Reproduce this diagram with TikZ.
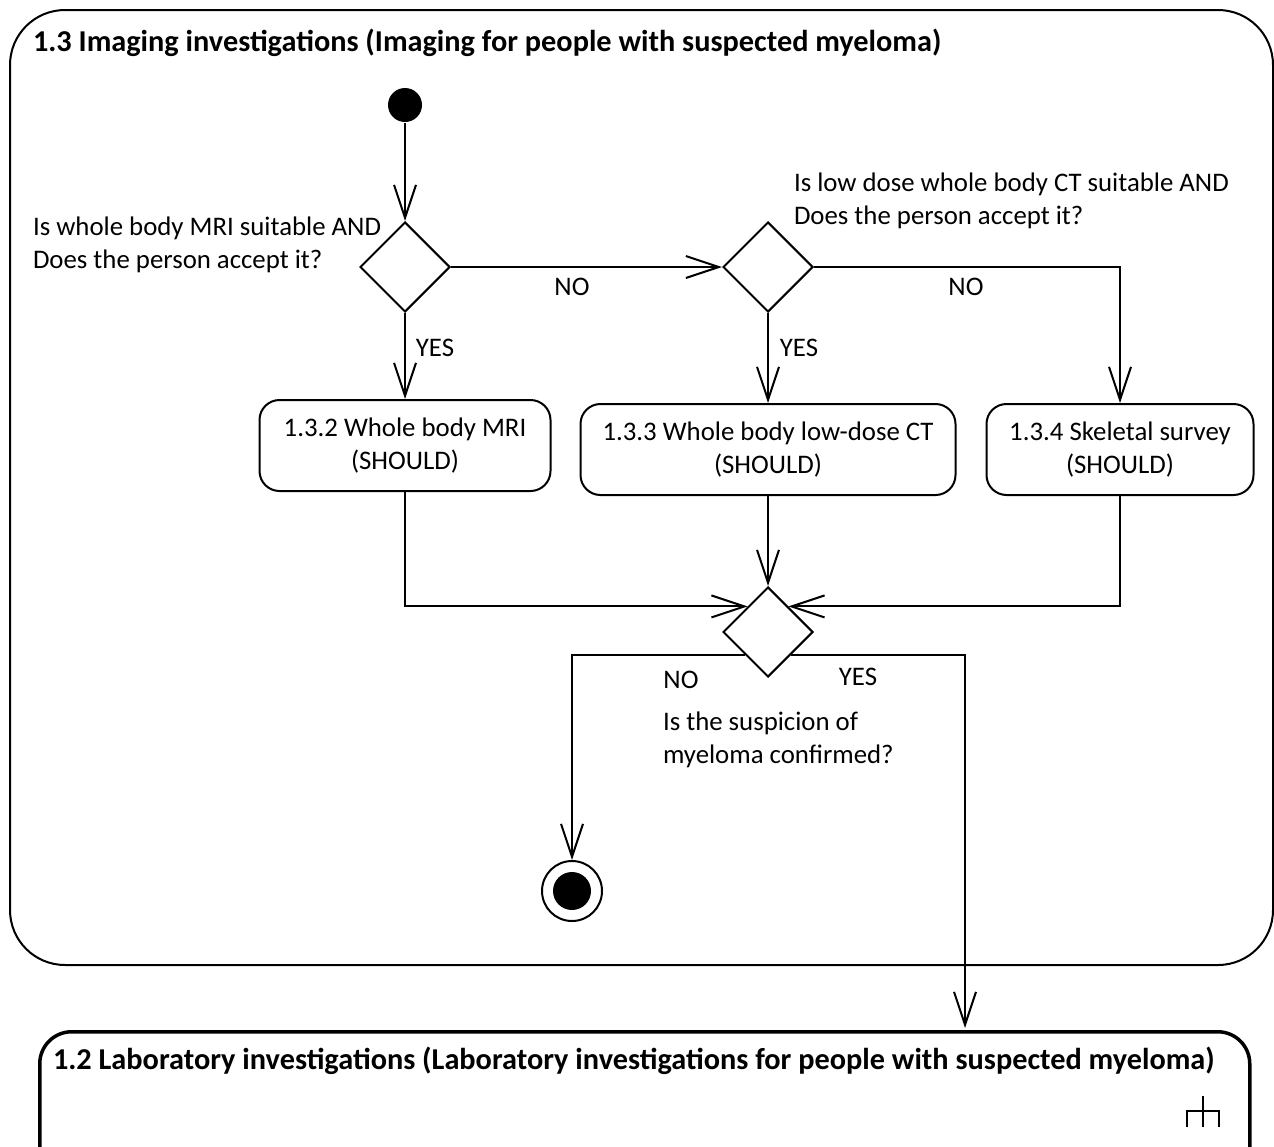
\documentclass[tikz,border=0pt]{standalone}
\usepackage{fontspec}
\setmainfont{Carlito}
\usetikzlibrary{shapes.geometric,arrows.meta,calc}
\begin{document}
\begin{tikzpicture}[x=1pt,y=-1pt, line width=2pt,
  txt/.style={font=\fontsize{26.8}{33}\selectfont, inner sep=0pt},
  ttl/.style={font=\bfseries\fontsize{30.3}{36}\selectfont, inner sep=0pt, anchor=west},
  act/.style={draw, rounded corners=20pt, align=center, txt, minimum height=91pt},
  dec/.style={draw, diamond, aspect=1, minimum width=90pt, minimum height=90pt, inner sep=0pt},
  arr/.style={-{Straight Barb[length=33pt,width=22pt,line width=2pt]}},
]
\useasboundingbox (0,0) rectangle (1274,1146);
% outer frame
\draw[rounded corners=55pt] (10,10) rectangle (1273,965);
\node[ttl] (t13) at (32,43) {1.3 Imaging investigations (Imaging for people with suspected myeloma)};

% nodes
\node[circle, fill, inner sep=0pt, minimum size=34pt] (start) at (405,105) {};
\node[dec] (d1) at (405,267) {};
\node[dec] (d2) at (768,267) {};
\node[dec] (d3) at (768,632) {};
\node[act, minimum width=291pt] (b1) at (405,445.5) {1.3.2 Whole body MRI\\(SHOULD)};
\node[act, minimum width=375pt] (b2) at (768,449.5) {1.3.3 Whole body low-dose CT\\(SHOULD)};
\node[act, minimum width=267pt] (b3) at (1120,449.5) {1.3.4 Skeletal survey\\(SHOULD)};
\node[circle, draw, minimum size=60pt, inner sep=0pt] (fin) at (572,891) {};
\node[circle, fill, minimum size=38pt, inner sep=0pt] (finin) at (fin) {};

% lower activity
\node[draw, line width=3.5pt, rounded corners=32pt, minimum width=1210pt, minimum height=150pt, anchor=north west, inner sep=0pt] (lab) at (38,1030) {};
\node[ttl] (t12) at (52,1061) {1.2 Laboratory investigations (Laboratory investigations for people with suspected myeloma)};
\draw[line width=2.5pt] (1203,1096) -- (1203,1127) (1187,1127) -- (1187,1111) -- (1219,1111) -- (1219,1127);
\coordinate (labin) at (965,1028);

% connectors
\draw[arr] (start) -- (d1.north);
\draw[arr] (d1.east) -- (d2.west);
\draw[arr] (d1.south) -- (b1.north);
\draw[arr] (d2.south) -- (b2.north);
\draw[arr] (d2.east) -| (b3.north);
\draw[arr] (b2.south) -- (d3.north);
\draw[arr] (b1.south) |- ($(d3.north)!0.444!(d3.west)$);
\draw[arr] (b3.south) |- ($(d3.north)!0.444!(d3.east)$);
\draw[arr] (d3.south west) -| (fin.north);
\draw[arr] (d3.south east) -| (labin);

% labels
\node[txt] (no1) at (572,287) {NO};
\node[txt] (no2) at (966,287) {NO};
\node[txt] (yes1) at (435,348) {YES};
\node[txt] (yes2) at (799,348) {YES};
\node[txt] (no3) at (681,680) {NO};
\node[txt] (yes3) at (858,677) {YES};
\node[txt, anchor=west, align=left] (q1) at (32,244.5) {Is whole body MRI suitable AND\\Does the person accept it?};
\node[txt, anchor=west, align=left] (q2) at (793,201) {Is low dose whole body CT suitable AND\\Does the person accept it?};
\node[txt, anchor=west, align=left] (q3) at (662,739.5) {Is the suspicion of\\myeloma confirmed?};
\end{tikzpicture}
\end{document}
